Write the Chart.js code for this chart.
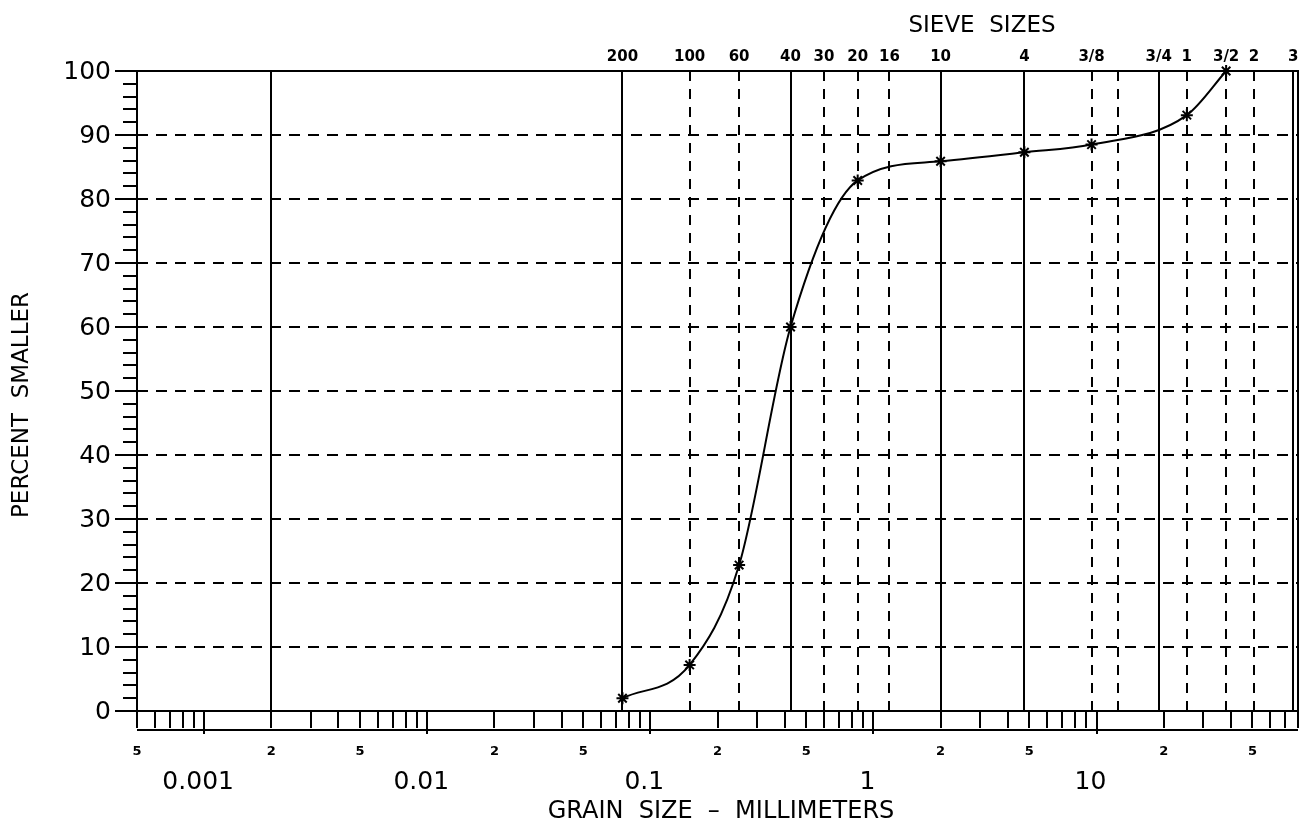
<!DOCTYPE html>
<html>
<head>
<meta charset="utf-8">
<script src="https://cdn.jsdelivr.net/npm/chart.js@4.4.1/dist/chart.umd.min.js"></script>
<style>
  html, body { margin: 0; padding: 0; background: #fff; }
</style>
</head>
<body>
<canvas id="gradationChart" width="1312" height="828"></canvas>
<script>
// sieve openings (mm) shown along the top
const sieveLabels = ["200", "100", "60", "40", "30", "20", "16", "10", "4", "3/8", "", "3/4", "1", "3/2", "2", "3"];
const sieveSizes = [0.075, 0.15, 0.25, 0.425, 0.6, 0.85, 1.18, 2.0, 4.75, 9.5, 12.5, 19.0, 25.4, 38.1, 50.8, 76.2];
const sieveSolid = [true, false, false, true, false, false, false, true, true, false, false, true, false, false, false, true];
const extraSolidLines = [0.002];

// test results
const grainSize = [0.075, 0.15, 0.25, 0.425, 0.85, 2.0, 4.75, 9.5, 25.4, 38.1];
const percentSmaller = [2.0, 7.2, 22.8, 60.0, 82.9, 85.9, 87.3, 88.5, 93.1, 100];

// axis labels
const yTickValues = [0, 10, 20, 30, 40, 50, 60, 70, 80, 90, 100];
const decadeValues = [0.001, 0.01, 0.1, 1, 10];
const decadeLabels = ["0.001", "0.01", "0.1", "1", "10"];
const subTickValues = [0.0005, 0.002, 0.005, 0.02, 0.05, 0.2, 0.5, 2, 5, 20, 50];
const subTickLabels = ["5", "2", "5", "2", "5", "2", "5", "2", "5", "2", "5"];

const X_MIN = 0.0005, X_MAX = 80;
const FONT = "'DejaVu Sans', sans-serif";

const gradationAxes = {
    id: "gradationAxes",
    beforeDatasetsDraw(chart) {
        const ctx = chart.ctx;
        const x = chart.scales.x, y = chart.scales.y;
        const area = chart.chartArea;
        ctx.save();
        ctx.strokeStyle = "#000";
        ctx.lineWidth = 2;

        // horizontal dashed grid
        ctx.setLineDash([11, 8]);
        yTickValues.forEach(v => {
            if (v === 0 || v === 100) return;
            const py = Math.round(y.getPixelForValue(v));
            ctx.beginPath();
            ctx.moveTo(area.left, py);
            ctx.lineTo(area.right, py);
            ctx.stroke();
        });

        // sieve lines
        sieveSizes.forEach((s, i) => {
            const px = Math.round(x.getPixelForValue(s));
            ctx.setLineDash(sieveSolid[i] ? [] : [10, 8]);
            ctx.beginPath();
            ctx.moveTo(px, area.top);
            ctx.lineTo(px, area.bottom);
            ctx.stroke();
        });
        ctx.setLineDash([]);
        extraSolidLines.forEach(s => {
            const px = Math.round(x.getPixelForValue(s));
            ctx.beginPath();
            ctx.moveTo(px, area.top);
            ctx.lineTo(px, area.bottom);
            ctx.stroke();
        });

        // frame
        ctx.strokeRect(area.left, area.top, area.right - area.left, area.bottom - area.top);

        // y ticks: minor every 2, major every 10
        for (let v = 0; v <= 100; v += 2) {
            const py = Math.round(y.getPixelForValue(v));
            const major = v % 10 === 0;
            ctx.beginPath();
            ctx.moveTo(area.left - (major ? 22 : 14), py);
            ctx.lineTo(area.left + (major ? 10 : 0), py);
            ctx.stroke();
        }

        // y labels
        ctx.fillStyle = "#000";
        ctx.font = "25px " + FONT;
        ctx.textAlign = "right";
        ctx.textBaseline = "middle";
        yTickValues.forEach(v => {
            ctx.fillText(String(v), area.left - 26, y.getPixelForValue(v) + 1);
        });

        // bottom log ticks
        const bandY = area.bottom + 19;
        for (let d = -4; d <= 1; d++) {
            for (let m = 1; m <= 9; m++) {
                const v = m * Math.pow(10, d);
                if (v < X_MIN * 0.999 || v > X_MAX * 1.001) continue;
                const px = Math.round(x.getPixelForValue(v));
                ctx.beginPath();
                ctx.moveTo(px, area.bottom);
                ctx.lineTo(px, area.bottom + (m === 1 ? 23 : 17));
                ctx.stroke();
            }
        }
        ctx.beginPath();
        ctx.moveTo(area.left, bandY);
        ctx.lineTo(area.right, bandY);
        ctx.stroke();

        // 2 / 5 labels
        ctx.textAlign = "center";
        ctx.font = "bold 13px " + FONT;
        subTickValues.forEach((v, i) => {
            ctx.fillText(subTickLabels[i], x.getPixelForValue(v), area.bottom + 41);
        });

        // decade labels
        ctx.font = "25px " + FONT;
        decadeValues.forEach((v, i) => {
            ctx.fillText(decadeLabels[i], x.getPixelForValue(v) - 6, area.bottom + 71);
        });

        // x title
        ctx.font = "24px " + FONT;
        ctx.fillText("GRAIN  SIZE  \u2013  MILLIMETERS", 721, area.bottom + 101);

        // sieve labels
        ctx.font = "bold 15px " + FONT;
        sieveSizes.forEach((s, i) => {
            if (!sieveLabels[i]) return;
            ctx.fillText(sieveLabels[i], x.getPixelForValue(s), area.top - 14);
        });
        ctx.font = "23px " + FONT;
        ctx.fillText("SIEVE  SIZES", 982, 26);

        // y title
        ctx.translate(22, (area.top + area.bottom) / 2 + 14);
        ctx.rotate(-Math.PI / 2);
        ctx.font = "23px " + FONT;
        ctx.fillText("PERCENT  SMALLER", 0, 0);
        ctx.restore();
    }
};

const ctx = document.getElementById("gradationChart").getContext("2d");
new Chart(ctx, {
    type: "line",
    data: {
        datasets: [{
            label: "Percent smaller",
            data: grainSize.map((g, i) => ({ x: g, y: percentSmaller[i] })),
            borderColor: "#000",
            borderWidth: 2,
            backgroundColor: "#000",
            pointStyle: "star",
            pointRadius: 6,
            pointBorderWidth: 2,
            pointBorderColor: "#000",
            cubicInterpolationMode: "monotone",
            fill: false,
            clip: false
        }]
    },
    options: {
        responsive: false,
        animation: false,
        devicePixelRatio: 1,
        layout: { padding: { left: 137, right: 14, top: 71, bottom: 117 } },
        plugins: { legend: { display: false }, tooltip: { enabled: false } },
        scales: {
            x: { type: "logarithmic", min: X_MIN, max: X_MAX, display: false },
            y: { type: "linear", min: 0, max: 100, display: false }
        }
    },
    plugins: [gradationAxes]
});
</script>
</body>
</html>
